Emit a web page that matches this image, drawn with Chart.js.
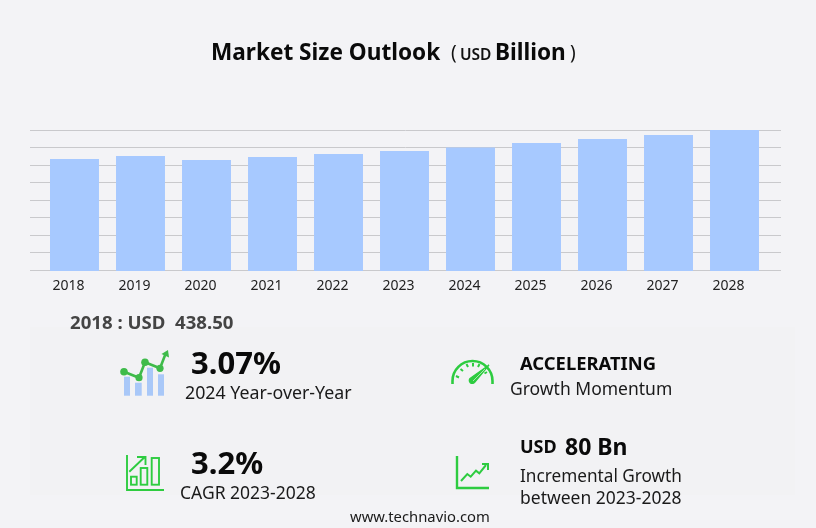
<!DOCTYPE html>
<html><head><meta charset="utf-8">
<script src="https://cdn.jsdelivr.net/npm/chart.js@4"></script>
<style>
html,body{margin:0;padding:0;background:#f3f3f6;width:816px;height:528px;overflow:hidden}
body{position:relative;font-family:"Noto Sans",sans-serif;color:#111}
#panel{position:absolute;left:30px;top:327px;width:765px;height:168px;background:#f2f2f4}
canvas{position:absolute;left:0;top:0}
.t{position:absolute;white-space:nowrap;line-height:1}
svg{position:absolute}
</style></head><body>
<div id="panel"></div>
<canvas id="c" width="816" height="528"></canvas>
<div class="t" style="left:211px;top:41px;font-size:22.6px;font-weight:700;color:#0a0a0a">Market Size Outlook</div>
<div class="t" style="left:451px;top:43px;font-size:19px;color:#111">(</div>
<div class="t" style="left:460px;top:47px;font-size:15.5px;font-weight:600;color:#111">USD</div>
<div class="t" style="left:495px;top:41px;font-size:22.6px;font-weight:700;color:#0a0a0a">Billion</div>
<div class="t" style="left:570px;top:43px;font-size:19px;color:#111">)</div>
<div class="t" style="left:70px;top:313px;font-size:18.6px;font-weight:700;color:#444;white-space:pre">2018 : USD  438.50</div>

<svg style="left:118px;top:348px" width="54" height="50" viewBox="0 0 54 50">
<g fill="#a9c8f8"><rect x="6" y="28.7" width="6" height="19"/><rect x="17" y="34.7" width="6.7" height="13"/><rect x="29" y="19.7" width="6" height="28"/><rect x="40" y="26.3" width="6" height="21.4"/></g>
<polyline points="6,23.7 21,29.7 27,14.3 42,20.3 47.5,6" fill="none" stroke="#3fbb4a" stroke-width="2.6"/>
<g fill="#3fbb4a"><circle cx="6" cy="23.7" r="3.8"/><circle cx="21" cy="29.7" r="3.6"/><circle cx="27" cy="14.3" r="3.8"/><circle cx="42" cy="20.3" r="3.6"/><path d="M50,2 L43.5,6 L51,9.5 Z"/></g>
</svg>
<div class="t" style="left:191px;top:347px;font-size:31px;font-weight:700;color:#0a0a0a">3.07%</div>
<div class="t" style="left:185px;top:384px;font-size:17.8px;color:#1a1a1a">2024 Year-over-Year</div>

<svg style="left:450px;top:358px" width="48" height="30" viewBox="0 0 48 30" fill="none" stroke="#2ecc40">
<path d="M2.5,26 V23 A20,20 0 0 1 42.5,23 V26" stroke-width="2.6"/>
<path d="M6,18 L9,19.5 M10.5,11 L13,13 M16.5,6 L18,9 M23,5 L23,8.5 M29.5,6 L28,9 M37,14 L34.5,15.5" stroke-width="2"/>
<path d="M39,7 L24.5,24.5 A2.8,2.8 0 0 1 20,20.5 Z" fill="#2ecc40" stroke-width="1.2"/>
<path d="M35,11 L23,23" stroke="#a8e6ae" stroke-width="1"/>
</svg>
<div class="t" style="left:520px;top:354px;font-size:18.4px;font-weight:700;color:#0a0a0a">ACCELERATING</div>
<div class="t" style="left:510px;top:380px;font-size:17.5px;color:#1a1a1a">Growth Momentum</div>

<svg style="left:124px;top:454px" width="42" height="38" viewBox="0 0 42 38" fill="none" stroke="#2ecc40" stroke-width="1.9">
<path d="M3,1 V36 H40"/>
<rect x="7" y="22.7" width="5.7" height="8"/><rect x="16.7" y="14" width="6.6" height="16.7"/><rect x="27.7" y="4" width="7.3" height="26.7"/>
<path d="M5.3,17.7 L21,2.7 M13,3 H21.5 V11"/>
</svg>
<div class="t" style="left:191px;top:447px;font-size:31px;font-weight:700;color:#0a0a0a">3.2%</div>
<div class="t" style="left:180px;top:484px;font-size:17.5px;color:#1a1a1a">CAGR 2023-2028</div>

<svg style="left:455px;top:455px" width="36" height="36" viewBox="0 0 36 36" fill="none" stroke="#2ecc40" stroke-width="2">
<path d="M2,1 V33 H34" stroke-width="2.4"/>
<path d="M6,26 L12.3,19 L15.7,21.7 L21,15.7 L24.3,18.3 L31,10"/>
<path d="M27,9 H33 V15"/>
</svg>
<div class="t" style="left:520px;top:437px;font-size:18px;font-weight:700;color:#0a0a0a">USD</div>
<div class="t" style="left:565px;top:435px;font-size:23px;font-weight:700;color:#0a0a0a">80 Bn</div>
<div class="t" style="left:520px;top:467px;font-size:17.2px;color:#1a1a1a">Incremental Growth</div>
<div class="t" style="left:520px;top:489px;font-size:17.5px;color:#1a1a1a">between 2023-2028</div>
<div class="t" style="left:350px;top:509px;font-size:14.8px;color:#1a1a1a">www.technavio.com</div>

<script>
const years = [2018,2019,2020,2021,2022,2023,2024,2025,2026,2027,2028];
const marketSize = [438.5,450,434.5,446,458,470,484,501.5,517.5,533,553];
const barColor = '#a7c9ff';
const gridColor = '#c9c9cc';
new Chart(document.getElementById('c'),{
  type:'bar',
  data:{datasets:[{
    data:years.map((y,i)=>({x:y,y:marketSize[i]})),
    backgroundColor:barColor,borderWidth:0,
    categoryPercentage:1,barPercentage:0.742,
    base:-4,clip:{left:0,right:0,top:0,bottom:1}
  }]},
  options:{
    responsive:false,animation:false,devicePixelRatio:1,
    layout:{padding:{left:30,right:35,top:130,bottom:228}},
    plugins:{legend:{display:false},title:{display:false},tooltip:{enabled:false}},
    scales:{
      x:{type:'linear',offset:false,min:2017.3258,max:2028.7045,
        afterFit(s){s.height=30;},
        grid:{display:false,offset:false},border:{display:false},
        afterBuildTicks(s){s.ticks=years.map(v=>({value:v}));},
        ticks:{maxRotation:0,autoSkip:false,includeBounds:false,labelOffset:-6,padding:0,
          callback:v=>String(v),
          font:{family:'"Noto Sans"',size:14},color:'#222'}},
      y:{min:0,max:553,
        grid:{color:gridColor,lineWidth:1,drawTicks:false},border:{display:false},
        ticks:{display:false,stepSize:69.125}}
    }
  }
});
</script>
</body></html>
